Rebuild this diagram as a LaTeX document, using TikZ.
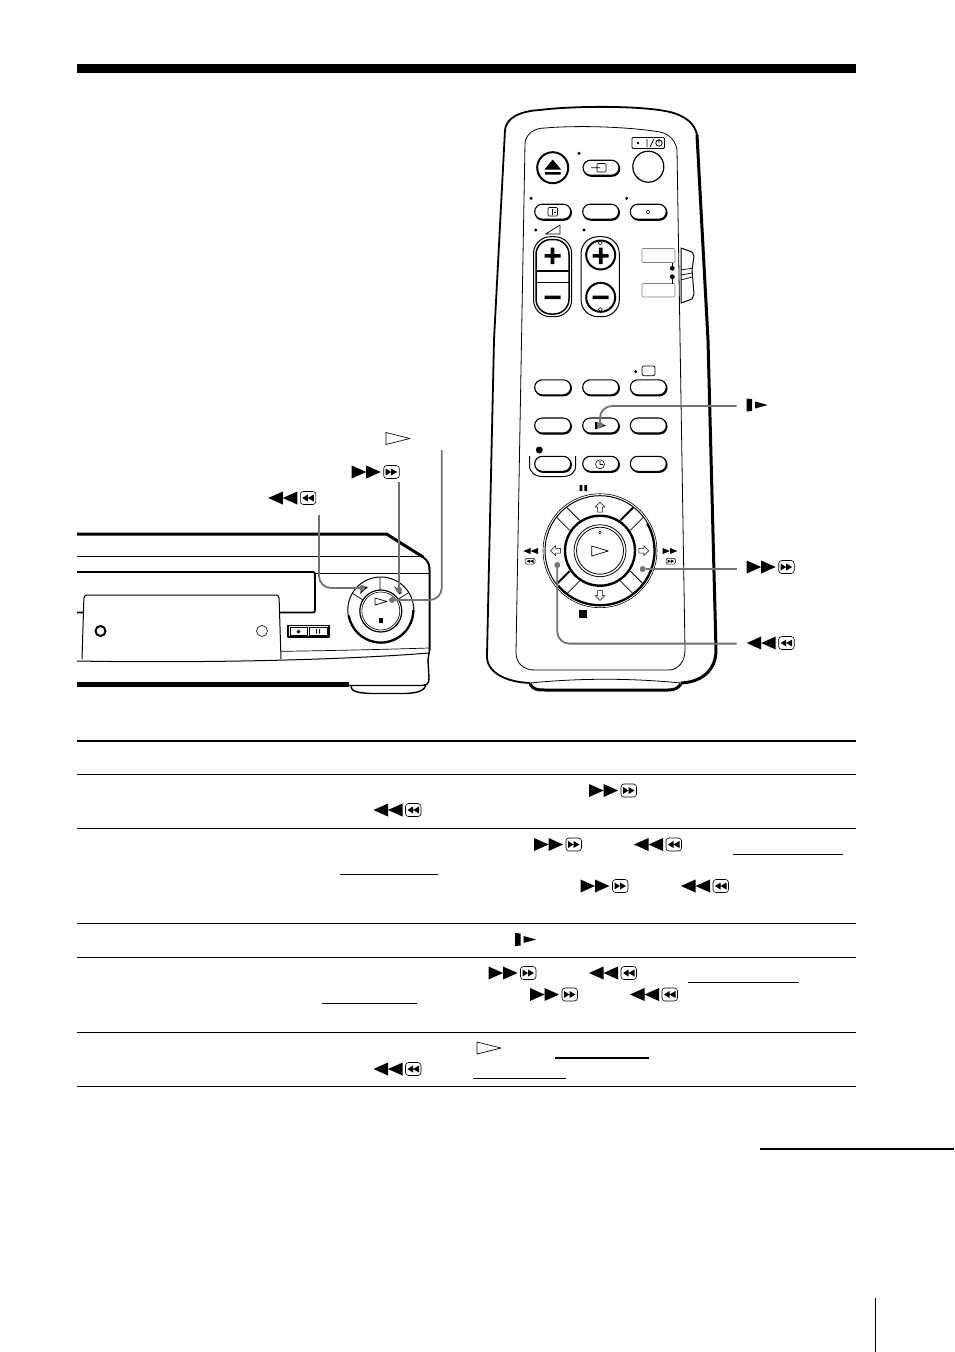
\documentclass[tikz,border=0pt]{standalone}
\usepackage{xcolor}
\definecolor{CalloutGray}{gray}{0.45}

\begin{document}
\begin{tikzpicture}[x = 1pt, y = -1pt, line join = round]
     \tikzset{PillStyle/.style  =   {draw,
                                     fill            = white,
                                     line width      = 1.1pt,
                                     rounded corners = 7.5pt,
                                     inner sep       = 0pt,
                                     minimum width   = 36pt,
                                     minimum height  = 15pt},
              PillShade/.style  =   {PillStyle,
                                     fill            = black},
              CalloutStyle/.style = {draw            = CalloutGray,
                                     line width      = 1.8pt,
                                     rounded corners = 12pt},
              DotStyle/.style   =   {circle,
                                     fill            = CalloutGray,
                                     inner sep       = 0pt,
                                     minimum size    = 6pt},
              RuleStyle/.style  =   {line width      = 1pt},
              UnderStyle/.style =   {line width      = 1pt},
              ffsym/.pic        =   {\fill (0,-6.5) -- (14.5,0) -- (0,6.5) -- cycle
                                           (14.5,-6.5) -- (29,0) -- (14.5,6.5) -- cycle;
                                     \draw[line width = .6pt, rounded corners = 3pt] (32,-6.5) rectangle (47.5,6.5);
                                     \fill (34,-3.5) -- (39.5,0) -- (34,3.5) -- cycle
                                           (39.5,-3.5) -- (45.5,0) -- (39.5,3.5) -- cycle;},
              rewsym/.pic       =   {\fill (14.5,-6.5) -- (0,0) -- (14.5,6.5) -- cycle
                                           (29,-6.5) -- (14.5,0) -- (29,6.5) -- cycle;
                                     \draw[line width = .6pt, rounded corners = 3pt] (32,-6.5) rectangle (47.5,6.5);
                                     \fill (39.5,-3.5) -- (34,0) -- (39.5,3.5) -- cycle
                                           (45.5,-3.5) -- (39.5,0) -- (45.5,3.5) -- cycle;},
              slowsym/.pic      =   {\fill (0,-6.5) -- (5.5,-6) -- (5.5,6) -- (0,6.5) -- cycle
                                           (8.5,-3.5) -- (21,0) -- (8.5,3.5) -- cycle;},
              playsym/.pic      =   {\draw[line width = .7pt] (0,-6) -- (24,0) -- (0,6) -- cycle;},
              arrowglyph/.pic   =   {\draw[line width = .5pt] (0,-5.5) -- (5,-.5) -- (2.3,-.5) -- (2.3,4.5)
                                           -- (-2.3,4.5) -- (-2.3,-.5) -- (-5,-.5) -- cycle;}}
     \useasboundingbox (0,0) rectangle (954,1352);
     \fill[white] (0,0) rectangle (954,1352);
     \fill (77,64) rectangle (856,73);
     % table
     \draw[line width = 1.5pt] (77,741) -- (856,741);
     \foreach \ry in {774,828,923,957,1032,1086}
         {\draw[RuleStyle] (77,\ry) -- (856,\ry);}
     \foreach \ux/\uy/\uz in {733/854.5/843,340/874/438,688/982.5/799,322/1003/417,473/1078/566}
         {\draw[UnderStyle] (\ux,\uy) -- (\uz,\uy);}
     \draw[line width = 1.5pt] (555,1058) -- (649,1058);
     \draw[line width = 1.5pt] (760,1149) -- (954,1149);
     \draw[line width = .8pt] (875,1298) -- (875,1352);
     \foreach \sx/\sy in {589/790.5,534/844.5,580.5/886,488.5/973,530/994.5}
         {\pic at (\sx,\sy) {ffsym};}
     \foreach \sx/\sy in {373.5/810,634/844.5,681/886,589/973,630/994.5,373.5/1069}
         {\pic at (\sx,\sy) {rewsym};}
     \pic at (515,939.5) {slowsym};
     \pic at (477,1048) {playsym};
     % deck
     \draw[line width = 3pt] (77,534) -- (386.5,534) -- (423,557);
     \draw[line width = 2pt] (423,557)
         .. controls (428,561) and (429.5,564) .. (429.5,570) -- (429.5,650);
     \draw[line width = 1pt] (77,556) -- (424,556);
     \draw[line width = 1.8pt, rounded corners = 2pt] (77,572) -- (315,572) -- (315,612.5) -- (77,612.5);
     \draw[line width = .6pt] (315,573) -- (429,573);
     \draw[line width = .7pt] (82,650.5) .. controls (180,653) and (300,652) .. (429,648);
     \draw[line width = 1pt, fill = white, rounded corners = 3pt] (82,659) -- (84,595) -- (279,595) -- (281,659);
     \draw[line width = 1pt] (77,661) .. controls (180,663) and (330,661) .. (429,653);
     \draw[line width = 1.4pt] (429.5,650) -- (428,660) -- (429,678) .. controls (429,684) and (427,685.5) .. (420,685.5) -- (348,685.5);
     \draw[line width = 5pt] (77,684.5) -- (349,684.5);
     \draw[line width = 1.4pt] (351,686) .. controls (351,691) and (356,693) .. (372,693.5)
         -- (405,693.5) .. controls (417,693) and (424,691) .. (426,685.5);
     \draw[line width = 2pt] (100.5,631) circle[radius = 5];
     \draw[line width = .6pt] (262,631) circle[radius = 5.5];
     \draw[line width = 1.2pt] (288,625.5) rectangle (329,637);
     \draw[line width = .6pt] (290,627) rectangle (307.5,635.5) (309,627) rectangle (327,635.5);
     \fill (298.5,629.5) -- (300.5,631.5) -- (298.5,633.5) -- (296.5,631.5) -- cycle;
     \fill (316,629) rectangle (317.2,633.5) (319,629) rectangle (320.2,633.5);
     \draw[line width = 1pt] (380.8,610) circle[radius = 33];
     \draw[line width = 2.2pt] ([shift = {(0:32.5)}]380.8,610) arc[start angle = 0, end angle = 170, radius = 32.5];
     \draw[line width = 1.2pt] (380.8,611) circle[radius = 21];
     \draw[line width = .6pt] (380.8,611) circle[radius = 19];
     \draw[line width = .7pt] (380,577) -- (380,590)
         (352,593) -- (363,600)
         (408,593) -- (397,600);
     \draw[line width = .7pt] (375,598) -- (387,601.5) -- (375,605) -- cycle;
     \fill (378.7,618) rectangle (383,622.5);
     \fill (362,586) -- (368,587) -- (360,594) -- cycle
           (394,586) -- (402,593) -- (399,594) -- cycle;
     % remote shell
     \draw[line width = 1.8pt] (494,340) -- (505,130) .. controls (506,118) and (520,111) .. (540,110)
         .. controls (570,106) and (640,105) .. (670,112) .. controls (686,116) and (695,124) .. (697,135);
     \draw[line width = 1.8pt] (494,340) -- (487,655) .. controls (486,672) and (505,682) .. (530,683);
     \draw[line width = 3pt] (697,135) -- (708,340) -- (716,650) .. controls (716,670) and (702,682) .. (681,683);
     \draw[line width = .8pt] (530,683) .. controls (580,678) and (630,678) .. (681,683);
     \draw[line width = 3pt] (530,684) .. controls (533,689) and (536,690) .. (545,690) -- (668,690) .. controls (675,690) and (678,688) .. (681,684);
     \draw[line width = .8pt] (525,143) .. controls (526,134) and (534,128) .. (545,128)
         .. controls (580,125) and (630,127) .. (660,132) .. controls (670,134) and (676,142) .. (677,150)
         -- (685,650) .. controls (685,662) and (678,670) .. (668,670) -- (535,670)
         .. controls (524,670) and (516,664) .. (516,652) -- cycle;
     % side switch
     \draw[line width = 1pt, fill = white] (681,248) -- (692,252) -- (694,256) -- (692,270) -- (694,294) -- (692,299) -- (681,303) -- cycle;
     \draw[line width = .7pt] (681,270) -- (693,268) (681,275) -- (692,273) (681,280) -- (692,277);
     \draw[line width = .6pt, draw = gray, rounded corners = 1pt] (642,248.5) rectangle (675,262.5) (642,283.5) rectangle (675,297);
     \draw[line width = .8pt] (672.3,262.5) -- (672.3,268) (672.3,277) -- (672.3,283.5);
     \fill (672.3,268.3) circle[radius = 2.4] (672.3,276.7) circle[radius = 2.4];
     % top keys
     \draw[line width = 2pt] (552.7,167.7) circle[radius = 15.5];
     \fill (552.7,159.5) -- (561,169.5) -- (544.5,169.5) -- cycle (545,172) rectangle (560.5,174.5);
     \draw[line width = 1.2pt] (648.3,166.7) circle[radius = 15.5];
     \draw[line width = .8pt, rounded corners = 1pt] (632,137.5) rectangle (664.5,148.5);
     \fill (638,143) circle[radius = 1.4];
     \draw[line width = .8pt] (647,139) -- (647,147) (650,147) -- (654,139) (659,143) circle[radius = 3.2] (659,139) -- (659,143);
     \foreach \name/\px/\py in {KeyInput/601/167.7,KeyAudio/552.7/211.7,KeyMid/600.7/211.7,KeyProg/648.3/211.7,
                                KeyA/552.7/387.3,KeyB/600.7/387.3,KeyC/648.3/387.3,
                                KeyD/552.7/425.5,KeyE/600.7/425.5,KeyF/648.3/425.5,
                                KeyClock/600.7/463.8,KeyG/648.3/463.8}
         {\node[PillShade] (\name S) at (\px+.7,\py+1) {};
          \node[PillStyle]  (\name)  at (\px,\py) {};}
     \foreach \dx/\dy in {579/153.3,531/198.3,626.7/198.3,535.7/230,584/230,635.7/371.7}
         {\fill (\dx,\dy) circle[radius = 1.7];}
     \draw[line width = .6pt, rounded corners = 1pt] (597,163.5) rectangle (606,172) (591,167.7) -- (600,167.7);
     \draw[line width = .6pt, rounded corners = 1pt] (548,207.5) rectangle (557.5,216);
     \draw[line width = .6pt] (552,209) -- (552,214.5) (554,212) -- (556,212);
     \draw[line width = .6pt] (648,210) -- (650,212) -- (648,214) -- (646,212) -- cycle;
     \draw[line width = .7pt, rounded corners = 2pt] (642,366) rectangle (655,375.7);
     \draw[line width = .7pt] (545.7,234) -- (560,225) -- (560,234) -- cycle;
     % rockers
     \draw[line width = 1pt, rounded corners = 17pt] (533.5,236.7) rectangle (571.7,316.7);
     \draw[line width = 1.5pt, rounded corners = 15pt] (536,239.5) rectangle (569,314);
     \draw[line width = 1.8pt] (536.5,270.7) -- (568.5,270.7);
     \draw[line width = .8pt] (536.5,282.5) -- (568.5,282.5);
     \draw[line width = 1pt, rounded corners = 17pt] (581,236.7) rectangle (619.3,316.7);
     \draw[line width = 2pt] (600.7,255) circle[radius = 14.5] (600.7,297.3) circle[radius = 14.5];
     \foreach \px in {552.5,600.7}
         {\fill (\px-8,254) rectangle (\px+8,257.5)
                (\px-1.8,247.5) rectangle (\px+1.8,264)
                (\px-8,295.5) rectangle (\px+8,299);}
     \foreach \py in {243,309.5}
         {\draw[line width = .5pt] (600.2,\py-2) -- (602.2,\py) -- (600.2,\py+2) -- (598.2,\py) -- cycle;}
     % record and clock
     \fill (539.3,450) circle[radius = 3.5];
     \draw[line width = 1pt] (529.5,456) -- (529.5,465) .. controls (529.5,473) and (535,476.7) .. (545,476.7)
         -- (560,476.7) .. controls (571,476.7) and (575.7,473) .. (575.7,465) -- (575.7,456);
     \node[PillShade] (KeyRecS) at (553.4,464.8) {};
     \node[PillStyle] (KeyRec)  at (552.7,463.8) {};
     \draw[line width = .6pt] (600,464.3) circle[radius = 4.5] (600,461) -- (600,464.5) -- (603,464.5);
     % slow glyph on key
     \fill (595,422) rectangle (597.6,429) (598.5,422.5) -- (606,425.5) -- (598.5,428.5) -- cycle;
     % jog dial
     \draw[line width = .6pt] (600,550.7) circle[radius = 57];
     \draw[line width = 1pt] (600,550.7) circle[radius = 55];
     \draw[line width = 2.2pt] ([shift = {(-30:54.5)}]600,550.7) arc[start angle = -30, end angle = 140, radius = 54.5];
     \draw[line width = 2.4pt] (600,550.7) circle[radius = 35];
     \draw[line width = .8pt] (600,550.7) circle[radius = 26];
     \draw[line width = .8pt] (600,550.7) circle[radius = 23.5];
     \foreach \a/\wa/\wb in {45/2pt/.8pt,135/.8pt/.8pt,225/.8pt/2pt,315/.8pt/.8pt}
         {\begin{scope}[shift = {(600,550.7)}, rotate = \a]
              \draw[line width = \wa] (36,-7) -- (54,-7);
              \draw[line width = \wb] (36,7) -- (54,7);
          \end{scope}}
     \pic[rotate = 0]   at (600,507.7) {arrowglyph};
     \pic[rotate = -90] at (643.3,550.7) {arrowglyph};
     \pic[rotate = 180] at (600,595) {arrowglyph};
     \pic[rotate = 90]  at (556,550.7) {arrowglyph};
     \draw[line width = .7pt] (591.7,546) -- (608.3,551) -- (591.7,556) -- cycle;
     \draw[line width = .5pt] (600,532.7) circle[radius = 1.4];
     \fill (579.5,485) rectangle (582.3,491) (584.3,485) rectangle (587.2,491);
     \fill (579,610) rectangle (587.3,617.7);
     % small marks beside the dial
     \fill (530.5,548) -- (523.3,551) -- (530.5,554) -- cycle (538,548) -- (530.5,551) -- (538,554) -- cycle;
     \fill (670,548) -- (677.3,551) -- (670,554) -- cycle;
     \fill (662.7,548) -- (670,551) -- (662.7,554) -- cycle;
     \draw[line width = .5pt, rounded corners = 1.5pt] (525,558.3) rectangle (535,564) (666,558.3) rectangle (675.5,564);
     \fill (530,559.5) -- (526.5,561.2) -- (530,563) -- cycle (533.5,559.5) -- (530,561.2) -- (533.5,563) -- cycle;
     \fill (667.5,559.5) -- (670.8,561.2) -- (667.5,563) -- cycle (670.8,559.5) -- (674.2,561.2) -- (670.8,563) -- cycle;
     % labels beside the pictures
     \pic at (268.3,498) {rewsym};
     \pic at (351.7,472) {ffsym};
     \pic at (386,438.5) {playsym};
     \pic at (746.7,405) {slowsym};
     \pic at (746.7,567) {ffsym};
     \pic at (746.7,643) {rewsym};
     % callouts
     \coordinate (DeckRewLabel)  at (319,515);
     \coordinate (DeckFFLabel)   at (399,482);
     \coordinate (DeckPlayLabel) at (441.7,450);
     \coordinate (SlowLabel)     at (736.7,406);
     \coordinate (FFLabel)       at (736.7,569);
     \coordinate (RewLabel)      at (736.7,643.6);
     \node[DotStyle] (DeckRewDot)  at (362,588) {};
     \node[DotStyle] (DeckFFDot)   at (399,590) {};
     \node[DotStyle] (DeckPlayDot) at (392,600) {};
     \node[DotStyle] (SlowDot)     at (600,425) {};
     \node[DotStyle] (FFDot)       at (642.7,569) {};
     \node[DotStyle] (RewDot)      at (557.3,565) {};
     \draw[CalloutStyle] (DeckRewLabel) |- (DeckRewDot);
     \draw[CalloutStyle] (DeckFFLabel) -- (DeckFFDot);
     \draw[CalloutStyle] (DeckPlayLabel) |- (DeckPlayDot);
     \draw[CalloutStyle] (SlowLabel) -| (SlowDot);
     \draw[CalloutStyle] (FFLabel) -- (FFDot);
     \draw[CalloutStyle] (RewLabel) -| (RewDot);
  \end{tikzpicture}
\end{document}
